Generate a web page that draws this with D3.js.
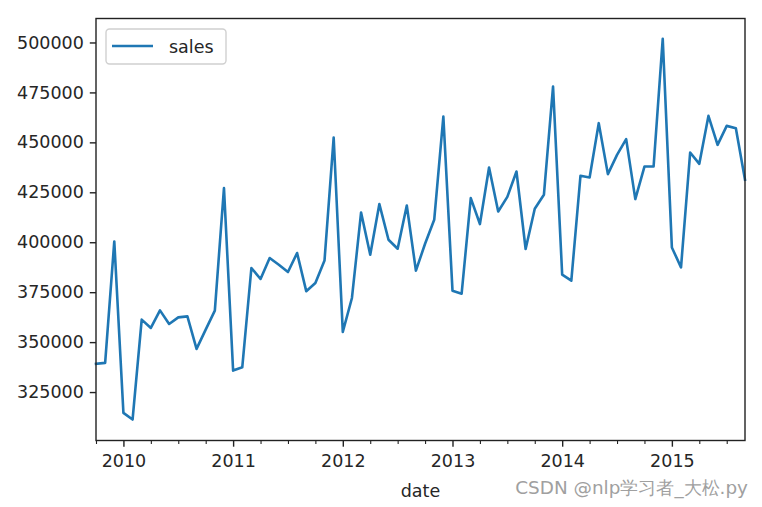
<!DOCTYPE html>
<html>
<head>
<meta charset="utf-8">
<script src="https://cdn.jsdelivr.net/npm/d3@7"></script>
<style>
  html, body { margin: 0; padding: 0; background: #fff; }
  svg { display: block; }
  text { font-family: "DejaVu Sans", sans-serif; }
</style>
</head>
<body>
<svg id="chart" width="762" height="507"></svg>
<script>
// ---- data ----
const startMonth = "2009-10";
const sales = [
  339100, 339600, 400400, 314600, 311250, 361250, 357100, 365900, 359100, 362400, 362900, 346600,
  356250, 365750, 427100, 335750, 337400, 387100, 381600, 392100, 388750, 385100, 394600, 375500,
  379600, 390900, 452400, 355100, 372100, 414900, 393750, 419100, 401250, 396750, 418400, 385750,
  399250, 411250, 462900, 375750, 374250, 422100, 409100, 437400, 415400, 422700, 435400, 396600,
  416750, 423750, 477900, 383750, 380750, 433250, 432400, 459600, 434100, 443750, 451600, 421600,
  437900, 437900, 501800, 397400, 387400, 444900, 439250, 463250, 448750, 458250, 457100, 431250
];
const yTicks = [325000, 350000, 375000, 400000, 425000, 450000, 475000, 500000];
const xTickLabels = ["2010", "2011", "2012", "2013", "2014", "2015"];
const seriesName = "sales";
const xLabel = "date";
const watermark = "CSDN @nlp学习者_大松.py";

// ---- layout ----
const svg = d3.select("#chart");
const L = 96, R = 745, T = 18.5, B = 440.5;
const color = "#1f77b4";
const fs = 17.5;

const startYear = +startMonth.slice(0, 4), startM = +startMonth.slice(5, 7) - 1;
const monthIdx = (y, m) => (y - startYear) * 12 + (m - startM);

const x = d3.scaleLinear().domain([0, sales.length - 1]).range([L, R]);
const y = d3.scaleLinear().domain([300750, 512000]).range([B, T]);

// line
const line = d3.line().x((d, i) => x(i)).y(d => y(d));
svg.append("path")
  .datum(sales)
  .attr("d", line)
  .attr("fill", "none")
  .attr("stroke", color)
  .attr("stroke-width", 2.6)
  .attr("stroke-linejoin", "round")
  .attr("stroke-linecap", "square");

// y axis
const yAxis = svg.append("g").attr("transform", `translate(${L},0)`)
  .call(d3.axisLeft(y).tickValues(yTicks).tickFormat(d3.format("d")).tickSize(6.2).tickPadding(6));
yAxis.select(".domain").remove();
yAxis.selectAll("line").attr("stroke", "#222").attr("stroke-width", 1.4);
yAxis.selectAll("text").attr("font-size", fs).attr("fill", "#262626").attr("font-family", "DejaVu Sans");

// x axis major
const majorVals = xTickLabels.map(s => monthIdx(+s, 0));
const xAxis = svg.append("g").attr("transform", `translate(0,${B})`)
  .call(d3.axisBottom(x).tickValues(majorVals).tickFormat((d, i) => xTickLabels[i]).tickSize(6.2).tickPadding(8));
xAxis.select(".domain").remove();
xAxis.selectAll("line").attr("stroke", "#222").attr("stroke-width", 1.4);
xAxis.selectAll("text").attr("font-size", fs).attr("fill", "#262626").attr("font-family", "DejaVu Sans");

// x axis minor (quarterly)
const minorVals = d3.range(0, sales.length).filter(i => ((startM + i) % 3 === 0) && ((startM + i) % 12 !== 0));
const xMinor = svg.append("g").attr("transform", `translate(0,${B})`)
  .call(d3.axisBottom(x).tickValues(minorVals).tickFormat("").tickSize(3.5));
xMinor.select(".domain").remove();
xMinor.selectAll("line").attr("stroke", "#222").attr("stroke-width", 1.1);

// frame
svg.append("rect").attr("x", L).attr("y", T).attr("width", R - L).attr("height", B - T)
  .attr("fill", "none").attr("stroke", "#222").attr("stroke-width", 1.4);

// x label
svg.append("text").attr("x", (L + R) / 2).attr("y", 497).attr("text-anchor", "middle")
  .attr("font-size", fs).attr("fill", "#262626").text(xLabel);

// legend
const lg = svg.append("g");
lg.append("rect").attr("x", 106).attr("y", 29).attr("width", 120).attr("height", 35).attr("rx", 3.5)
  .attr("fill", "#fff").attr("fill-opacity", 0.8).attr("stroke", "#d0d0d0").attr("stroke-width", 1.4);
lg.append("line").attr("x1", 112).attr("x2", 153).attr("y1", 46).attr("y2", 46)
  .attr("stroke", color).attr("stroke-width", 2.6);
lg.append("text").attr("x", 169).attr("y", 52.5).attr("font-size", fs).attr("fill", "#262626").text(seriesName);

// watermark
svg.append("text").attr("x", 748).attr("y", 494).attr("text-anchor", "end")
  .attr("font-size", 18.4).attr("fill", "#a0a0a0").attr("font-family", "'Noto Sans CJK SC', sans-serif")
  .text(watermark);
</script>
</body>
</html>
